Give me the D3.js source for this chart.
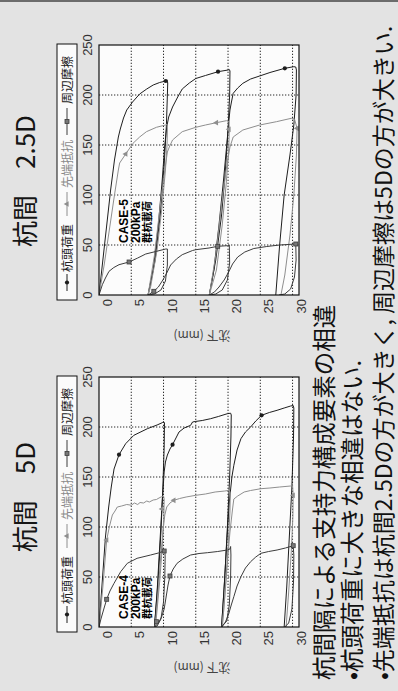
<!DOCTYPE html>
<html><head><meta charset="utf-8">
<script src="https://cdn.jsdelivr.net/npm/d3@7"></script>
<style>
  html,body{margin:0;padding:0;background:#e3e3e3;}
  svg{display:block;}
</style></head>
<body>
<svg id="chart" width="398" height="691"></svg>
<script>
// ---- axis ticks and legend ----
const loadTicks = [0, 50, 100, 150, 200, 250];      // 荷重 (kN)
const settleTicks = [0, 5, 10, 15, 20, 25, 30];     // 沈下 (mm)
const seriesNames = ["杭頭荷重", "先端抵抗", "周辺摩擦"];
const panelTitles = ["杭間\u30005D", "杭間\u30002.5D"];
const caseLabels = [["CASE-4", "200kPa", "群杭載荷"], ["CASE-5", "200kPa", "群杭載荷"]];
const notes = [
  "杭間隔による支持力構成要素の相違",
  "•杭頭荷重に大きな相違はない.",
  "•先端抵抗は杭間2.5Dの方が大きく, 周辺摩擦は5Dの方が大きい."
];

// ---- 杭間 5D : [沈下 mm, 荷重 kN] ----
const head5D = [
  [0,0],[0.5,45],[1.0,90],[1.5,120],[1.9,140],[2.33,158],[3.1,172.3],[4.13,183.3],[5.4,191.7],[7.5,198.3],[9.0,202],[9.8,204.3],[10.0,205.5],
  [10.15,204],[10.1,180],[9.9,140],[9.6,95],[9.2,50],[8.6,0],
  [9.0,35],[9.4,80],[9.8,125],[10.1,155],[10.3,165],
  [10.6,172],[11.0,178],[11.4,182.3],[12.4,195],[13.2,199],[14.2,201.7],[14.5,205],[14.9,205.5],[16,206.5],[17.3,208.3],[18.5,210.5],[19.9,213.3],[20.4,213.8],
  [20.5,212],[20.45,190],[20.25,150],[19.9,100],[19.5,50],[19.0,0],
  [19.4,40],[19.8,85],[20.2,125],[20.6,150],[20.9,161.7],
  [21.4,177],[22,188.3],[22.7,195],[23.5,200],[24.3,206],[25.2,211.7],[26.4,214.5],[27.6,216.7],[28.7,219],[29.7,221],[30.1,221.5],
  [30.2,219],[30.15,190],[29.9,140],[29.5,90],[29.1,40],[28.7,0]
];
const tip5D = [
  [0,0],[0.6,40],[1.19,87],[1.6,100],[2.07,112],[2.48,116],[2.84,120],[3.5,121],[4.3,122.5],[5,121.8],[5.5,124],[6.0,122.5],[6.36,124.5],[6.9,124],[7.4,126],[7.8,125],[8.4,127],[8.9,127.5],[9.3,129],[9.7,130.3],[10.0,131],
  [10.1,128],[10.05,110],[9.8,80],[9.4,45],[8.9,10],[8.7,0],
  [9.1,30],[9.5,65],[9.9,95],[10.2,112],[10.5,120],
  [11.0,124],[11.6,126.7],[12.5,128.5],[13.5,130],[15,131.7],[16.5,133],[18,135],[19.5,136],[20.2,136.7],
  [20.35,134],[20.3,115],[20.05,85],[19.7,50],[19.3,15],[19.1,0],
  [19.5,30],[19.9,65],[20.3,95],[20.7,118],[20.9,128],
  [21.5,131],[22.5,135],[23.5,136.5],[25.1,138.3],[26.5,139],[28,140],[29.7,141],[30.0,141.5],
  [30.1,131.7],[30.05,110],[29.8,75],[29.4,35],[29.0,0]
];
const fric5D = [
  [0,0],[0.3,8],[0.7,17],[1.19,27.7],[1.7,36],[2.33,43.7],[3.36,55.3],[4.39,63.7],[5.9,68.7],[8.0,72],[9.2,74],[10.1,76],[10.2,78],
  [10.25,70],[10.2,50],[10.0,25],[9.6,8],[9.0,1],[8.6,0],
  [9.2,4],[9.7,10],[10.1,18],[10.4,30],[10.7,42],[11.0,51],[11.5,58],[12.1,63.7],[13,68],[14.2,72],[15.5,73.5],[16.8,74.3],[18.4,75.5],[19.9,77],[20.3,78],[20.4,80.5],
  [20.45,72],[20.4,50],[20.2,22],[19.8,6],[19.0,0],
  [19.6,5],[20.1,13],[20.5,22],[20.9,30.3],[21.4,41],[22,50.3],[22.7,59],[23.5,65.3],[24.3,70],[25.1,73.7],[26.3,75.5],[27.6,77],[28.9,79],[30.1,81.3],
  [30.2,72],[30.15,45],[29.9,18],[29.4,4],[28.8,0]
];
const headMarks5D = [[3.1,172.3],[11.4,182.3],[25.2,211.7]];
const tipMarks5D = [[1.19,87],[11.6,126.7],[9.75,118],[30.1,131.7]];
const fricMarks5D = [[1.19,27.7],[10.1,76],[11.0,51],[8.9,5.3],[30.1,81.3]];

// ---- 杭間 2.5D : [沈下 mm, 荷重 kN] ----
const head25D = [
  [0,0],[0.6,35],[1.2,70],[1.8,105],[2.4,135],[3.0,158],[3.3,166],[3.8,177],[4.3,185],[5.2,193],[6.3,201],[7.4,206],[8.4,210],[9.4,212.5],[10.34,214],[10.55,215],
  [10.65,212],[10.6,200],[10.45,170],[10.1,130],[9.5,80],[8.7,35],[7.6,0],
  [8.4,25],[9.2,70],[9.8,115],[10.2,150],[10.5,168],
  [10.8,178],[11.4,188],[12.2,198],[12.9,206],[14,212],[15,216.5],[16.5,219.5],[18.45,223.3],[20,225],[20.2,225.5],
  [20.3,224],[20.25,200],[20.0,165],[19.6,125],[19.0,80],[18.1,35],[17.1,0],
  [17.8,25],[18.6,70],[19.3,115],[19.8,150],[20.1,172],[20.3,185],
  [20.5,192],[20.8,201.7],[21.5,207],[22.3,211.7],[23.5,216],[24.9,219],[26.5,222.5],[28.8,226.7],[30.2,228.3],[30.5,228],
  [30.6,225],[30.55,200],[30.2,170],[29.6,140],[28.7,100],[28.0,50],[27.4,0]
];
const tip25D = [
  [0,0],[0.8,30],[1.6,65],[2.4,100],[3.0,125],[3.2,132],[4.14,141],[5.27,151.7],[6.3,158],[7.35,163.3],[8.9,167.7],[10.3,170],[10.55,171],
  [10.6,166],[10.55,150],[10.3,125],[9.8,90],[9.0,45],[8.0,8],[7.6,0],
  [8.6,40],[9.5,90],[10.2,125],[10.6,143],
  [10.9,148],[11.4,155],[12.9,163.3],[15,167.7],[16.5,170],[18.2,172.3],[19.75,174.3],[20.15,173.5],
  [20.2,165.7],[20.1,145],[19.7,110],[19.1,70],[18.2,25],[17.1,0],
  [18.1,40],[19.0,90],[19.7,125],[20.3,148],
  [20.8,158],[22.3,165],[24.9,170],[27.5,173.3],[29.8,176.7],[30.3,176],
  [30.7,166.7],[30.6,140],[30.2,100],[29.6,60],[28.8,20],[28.2,0]
];
const fric25D = [
  [0,0],[0.52,10.3],[1.0,17],[1.55,23.7],[2.3,27.5],[3.1,30.3],[4.66,33],[6.0,37],[7.24,41],[8.8,43.5],[10.34,46],[10.6,46],
  [10.6,30],[10.3,14],[9.6,5],[8.6,1],[7.6,0],
  [8.5,3.7],[9.2,8],[9.9,15],[10.5,22],[11.1,30],[12.0,36],[12.9,40.3],[14.5,44.5],[15.0,45.3],[17.05,47],[18.4,48.7],[19.9,49.3],[20.2,50],
  [20.25,32],[19.9,15],[19.1,5],[18.1,1],[17.1,0],
  [17.9,3],[18.6,8],[19.4,15],[20.1,23],[20.7,31],[21.5,38],[22.6,43],[24.0,46.5],[26.0,48.5],[28.0,50],[30.5,51],
  [30.55,35],[30.3,18],[29.7,6],[28.8,1],[27.9,0]
];
const headMarks25D = [[10.34,214],[18.45,223.3],[28.8,226.7]];
const tipMarks25D = [[4.14,141],[18.2,172.3],[20.15,165.7],[30.7,166.7]];
const fricMarks25D = [[4.66,33],[8.5,3.7],[18.4,48.7],[30.5,51]];

// ---- drawing ----
const svg = d3.select("#chart");
svg.append("rect").attr("width", 398).attr("height", 691).attr("fill", "#e3e3e3");
svg.append("rect").attr("width", 398).attr("height", 2).attr("fill", "#6c6c6c");

// the figure is laid out in a 691 x 398 frame and turned a quarter turn
const root = svg.append("g").attr("transform", `translate(0,${691}) rotate(-90)`);

const CJK = "'Noto Sans CJK JP', 'Noto Sans', sans-serif";
const NARROW = "'Liberation Sans Narrow', 'Arial Narrow', 'Liberation Sans', sans-serif";
const colors = ["#1e1e1e", "#8e8e8e", "#3c3c3c"];
const plotTop = 99, plotBottom = 299;

const markerFns = [
  (g, cx, cy, c) => g.append("circle").attr("cx", cx).attr("cy", cy).attr("r", 2.1).attr("fill", c),
  (g, cx, cy, c) => g.append("path").attr("transform", `translate(${cx},${cy})`)
      .attr("d", d3.symbol(d3.symbolTriangle, 14)()).attr("fill", c),
  (g, cx, cy, c) => g.append("rect").attr("x", cx - 2).attr("y", cy - 2).attr("width", 4).attr("height", 4)
      .attr("fill", "#777").attr("stroke", c).attr("stroke-width", 0.8)
];

function panel(left, title, titleShift, series, marks, caseText, caseAt, id) {
  const x = d3.scaleLinear().domain([0, 250]).range([left, left + 250]);
  const y = d3.scaleLinear().domain([0, 31]).range([plotTop, plotBottom]);
  const g = root.append("g");

  // title
  g.append("text").attr("x", x(125) + titleShift).attr("y", 35).attr("text-anchor", "middle")
    .attr("font-family", CJK).attr("font-size", 26).attr("fill", "#151515").text(title);

  // legend
  const lg = g.append("g");
  lg.append("rect").attr("x", left - 5).attr("y", 57).attr("width", 256).attr("height", 20)
    .attr("fill", "#fbfbfb").attr("stroke", "#111").attr("stroke-width", 1);
  const items = [[4, 21, 23], [79, 103, 107], [160, 187, 191]];
  items.forEach((it, i) => {
    lg.append("line").attr("x1", left + it[0]).attr("x2", left + it[1]).attr("y1", 67).attr("y2", 67)
      .attr("stroke", colors[i]).attr("stroke-width", 1);
    markerFns[i](lg, left + (it[0] + it[1]) / 2, 67, colors[i]);
    lg.append("text").attr("x", left + it[2]).attr("y", 71.5).attr("font-family", CJK).attr("font-size", 12)
      .attr("fill", i === 1 ? "#8a8a8a" : "#222").text(seriesNames[i]);
  });

  // plot area
  g.append("rect").attr("x", left).attr("y", plotTop).attr("width", 250).attr("height", plotBottom - plotTop)
    .attr("fill", "#fcfcfc");
  const grid = g.append("g").attr("stroke", "#2a2a2a").attr("stroke-width", 1).attr("stroke-dasharray", "1.3,1.7");
  loadTicks.filter(t => t > 0 && t < 250).forEach(t =>
    grid.append("line").attr("x1", x(t)).attr("x2", x(t)).attr("y1", plotTop).attr("y2", plotBottom));
  settleTicks.filter(t => t > 0).forEach(t =>
    grid.append("line").attr("x1", left).attr("x2", left + 250).attr("y1", y(t)).attr("y2", y(t)));

  // tick labels
  loadTicks.forEach(t => g.append("text").attr("x", x(t)).attr("y", 92).attr("text-anchor", "middle")
    .attr("font-family", NARROW).attr("font-size", 13).attr("fill", "#333").text(t));
  settleTicks.forEach(t => g.append("text").attr("x", left - 4).attr("y", y(t) + 13).attr("text-anchor", "end")
    .attr("font-family", NARROW).attr("font-size", 13).attr("fill", "#333").text(t));

  // axis title
  g.append("text").attr("transform", `translate(${left - 36},${(plotTop + plotBottom) / 2 + 3}) rotate(-90)`)
    .attr("text-anchor", "middle").attr("font-family", CJK).attr("font-size", 12).attr("fill", "#444")
    .text("沈下 (mm)");

  // curves
  const clipId = "clip" + id;
  g.append("clipPath").attr("id", clipId).append("rect")
    .attr("x", left).attr("y", plotTop).attr("width", 250).attr("height", plotBottom - plotTop);
  const line = d3.line().x(d => x(d[1])).y(d => y(d[0])).curve(d3.curveLinear);
  const cg = g.append("g").attr("clip-path", `url(#${clipId})`);
  series.forEach((s, i) => {
    cg.append("path").datum(s).attr("d", line).attr("fill", "none")
      .attr("stroke", colors[i]).attr("stroke-width", 1).attr("stroke-linejoin", "round");
  });
  marks.forEach((m, i) => m.forEach(p => markerFns[i](cg, x(p[1]), y(p[0]), colors[i])));

  // case note
  caseText.forEach((t, k) => g.append("text").attr("x", x(caseAt)).attr("y", 128 + k * 11.5)
    .attr("font-family", k === 2 ? CJK : NARROW).attr("font-weight", "bold")
    .attr("font-size", k === 2 ? 10.5 : 12).attr("fill", "#000").text(t));

  // frame
  g.append("rect").attr("x", left).attr("y", plotTop).attr("width", 250).attr("height", plotBottom - plotTop)
    .attr("fill", "none").attr("stroke", "#111").attr("stroke-width", 1.2);
}

panel(64, panelTitles[0], 5, [head5D, tip5D, fric5D], [headMarks5D, tipMarks5D, fricMarks5D], caseLabels[0], 8, "a");
panel(396, panelTitles[1], -11, [head25D, tip25D, fric25D], [headMarks25D, tipMarks25D, fricMarks25D], caseLabels[1], 52, "b");

// notes below the panels
const nb = [333, 361, 392];
const ns = [23.5, 23.5, 23];
notes.forEach((t, i) => root.append("text").attr("x", 11).attr("y", nb[i])
  .attr("font-family", CJK).attr("font-size", ns[i]).attr("fill", "#111").text(t));
</script>
</body></html>
